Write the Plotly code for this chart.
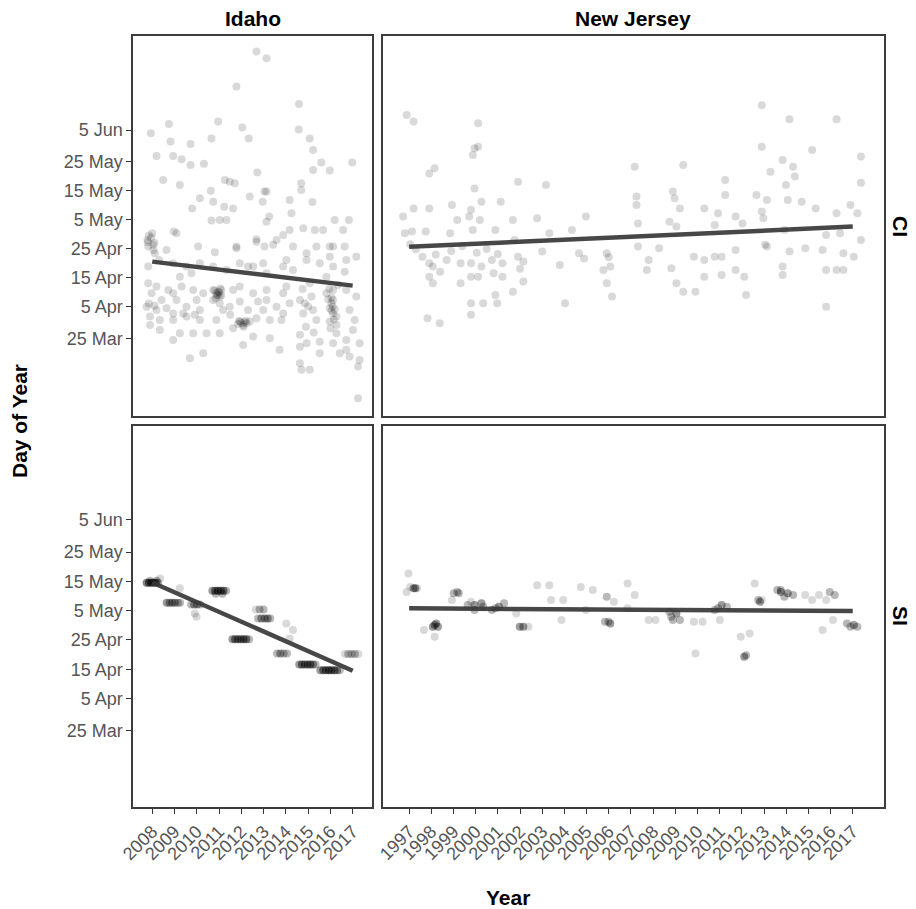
import plotly.graph_objects as go

# ---------------- data ----------------
years_idaho = list(range(2008, 2018))
years_nj = list(range(1997, 2018))
ytick_doy = [84, 95, 105, 115, 125, 135, 145, 156]
ytick_text = ["25 Mar", "5 Apr", "15 Apr", "25 Apr", "5 May", "15 May", "25 May", "5 Jun"]

# Idaho, CI : (jittered year, day of year)
idaho_ci = [
    (2007.94,154.9),(2008.19,147.0),(2008.49,138.7),(2007.79,118.0),(2008.04,116.3),(2007.82,115.7),
    (2008.12,113.4),(2008.31,111.1),(2007.82,108.8),(2007.82,103.0),(2008.19,101.9),(2007.97,99.6),
    (2008.42,97.2),(2007.75,94.9),(2008.19,93.8),(2007.9,91.5),(2008.34,90.3),(2007.9,88.6),
    (2008.34,86.9),(2007.85,119.5),(2008.0,120.3),(2008.1,117.0),
    (2007.8,117.2),(2007.95,118.8),(2008.05,114.5),(2007.85,96.0),(2008.1,95.2),
    (2008.75,158.1),(2008.82,152.0),(2008.94,147.0),(2009.32,145.9),(2009.24,137.0),(2009.09,120.3),
    (2008.97,120.9),(2008.64,114.5),(2008.94,109.9),(2009.24,105.3),(2009.32,101.9),(2008.72,100.7),
    (2008.94,99.6),(2009.09,97.2),(2008.64,94.4),(2008.94,92.6),(2009.39,92.6),(2008.94,90.3),
    (2009.24,85.7),(2008.94,83.4),
    (2009.72,151.2),(2009.72,143.9),(2010.32,144.3),(2010.14,132.4),(2009.79,128.9),(2010.06,115.7),
    (2009.54,108.8),(2010.14,109.9),(2009.76,106.5),(2009.84,100.7),(2010.29,99.6),(2009.99,97.2),
    (2009.54,94.9),(2010.14,93.8),(2009.91,92.1),(2009.54,91.5),(2010.14,90.3),(2009.84,85.7),
    (2010.29,78.8),(2009.69,77.1),
    (2010.96,158.9),(2010.66,153.1),(2011.26,138.7),(2011.48,138.1),(2010.63,135.0),(2010.74,131.2),
    (2011.23,129.5),(2010.66,124.7),(2011.03,124.9),(2011.33,124.9),(2010.81,113.7),(2010.74,108.8),
    (2011.33,107.6),(2010.74,100.7),(2011.1,100.7),(2010.96,100.1),(2010.88,99.6),(2011.03,98.4),
    (2010.74,97.2),(2011.03,96.1),(2011.48,94.9),(2011.18,93.8),(2010.88,90.3),(2010.44,85.7),
    (2011.03,85.7),(2010.9,98.9),(2011.0,99.8),
    (2010.8,100.5),(2010.95,99.0),(2011.05,101.2),(2010.85,97.8),(2011.1,98.9),
    (2011.78,171.0),(2012.04,156.9),(2012.33,153.1),(2011.71,137.6),(2012.38,133.0),(2011.63,128.9),
    (2011.78,115.7),(2011.78,115.1),(2011.93,109.9),(2012.3,108.8),(2011.93,101.9),(2011.63,100.7),
    (2011.93,96.7),(2012.3,93.8),(2011.93,89.8),(2012.38,89.8),(2012.23,89.2),(2012.08,88.6),
    (2012.15,89.5),(2011.63,87.5),(2012.08,81.7),(2011.5,92.1),
    (2011.9,90.0),(2012.0,89.3),(2012.2,90.1),(2012.1,88.0),(2011.85,88.9),
    (2012.68,183.1),(2013.13,180.8),(2012.72,141.3),(2013.04,134.7),(2013.13,134.7),(2012.96,131.2),
    (2013.25,126.1),(2013.13,124.3),(2012.68,118.2),(2012.68,117.4),(2013.04,115.7),(2012.98,109.9),
    (2012.53,108.8),(2013.13,106.5),(2013.13,100.7),(2012.53,99.6),(2013.13,97.2),(2012.75,96.7),
    (2012.98,93.8),(2012.68,90.9),(2013.28,90.3),(2012.53,84.6),(2013.28,84.0),
    (2014.17,131.8),(2014.25,127.2),(2014.17,121.4),(2013.88,119.7),(2013.58,118.0),(2013.43,116.3),
    (2014.32,115.7),(2014.02,111.1),(2013.88,108.8),(2014.32,107.6),(2014.02,101.9),(2013.88,99.6),
    (2014.17,96.1),(2013.58,94.9),(2013.88,92.6),(2013.8,90.3),(2013.72,80.0),
    (2014.59,165.0),(2014.58,156.2),(2015.07,153.1),(2015.22,149.1),(2015.59,144.8),(2015.22,142.2),
    (2014.69,137.6),(2014.69,135.3),(2015.19,131.1),(2014.78,122.0),(2015.3,121.4),(2015.37,115.7),
    (2014.93,113.4),(2014.93,111.1),(2015.07,103.0),(2015.15,98.4),(2014.63,97.2),(2014.85,96.1),
    (2015.22,93.8),(2014.78,92.6),(2015.37,90.3),(2014.63,85.2),(2015.52,82.8),(2014.93,82.3),
    (2014.63,81.1),(2015.52,78.8),(2014.63,75.4),(2014.7,73.1),(2015.07,73.1),
    (2014.75,101.0),(2015.0,95.0),(2014.9,88.0),(2015.25,86.0),
    (2015.97,142.0),(2016.19,124.9),(2015.67,121.4),(2015.97,115.7),(2016.12,115.7),(2015.97,112.2),
    (2015.52,109.9),(2016.12,108.8),(2015.82,105.3),(2016.34,102.4),(2016.12,100.7),(2015.82,99.6),
    (2016.12,97.2),(2016.04,96.1),(2015.97,94.4),(2016.12,92.6),(2016.27,91.5),(2015.97,89.8),
    (2016.27,88.6),(2016.27,85.7),(2016.12,82.3),(2016.42,78.8),(2016.05,98.0),(2016.1,95.0),
    (2015.95,101.0),(2016.05,93.5),(2016.15,90.5),(2015.9,97.5),(2016.2,94.0),(2016.0,87.5),
    (2016.98,144.8),(2016.83,124.9),(2016.57,121.4),(2016.64,115.7),(2016.71,111.1),(2017.16,112.2),
    (2016.64,107.0),(2016.71,100.7),(2017.16,98.4),(2016.86,93.8),(2017.09,90.3),(2017.01,86.9),
    (2016.71,83.4),(2017.31,82.3),(2016.71,80.0),(2016.86,77.7),(2017.31,76.5),(2017.24,74.2),
    (2017.24,63.3),
]

# New Jersey, CI
nj_ci = [
    (1996.89,161.2),(1997.20,158.9),(2000.11,158.3),(1999.95,149.7),(2000.11,150.2),(1999.87,147.4),
    (1997.91,141.0),(1998.15,142.8),(2001.91,138.1),(2003.17,137.0),(1999.95,135.8),(2012.90,164.6),
    (2014.15,159.7),(2016.27,159.7),(2012.90,150.2),(2015.17,149.1),(2017.37,146.8),(2017.37,137.8),
    (2013.84,145.6),(2014.31,143.3),(2013.29,141.6),(2014.39,139.9),(2011.25,138.7),(2007.17,143.3),
    (2009.36,143.9),(2013.99,137.0),(2014.07,131.8),(2014.70,131.2),(2015.33,128.9),(2012.66,133.5),
    (2013.13,131.8),(2012.90,127.8),(2012.97,125.5),(2011.25,133.5),(2008.89,134.7),(2008.97,132.4),
    (2009.21,128.9),(2007.25,133.0),(2007.25,130.1),(2010.31,128.9),(2004.97,126.1),(2002.77,125.5),
    (2001.68,124.9),(1996.73,126.1),(1997.20,128.9),(1997.91,128.9),(1998.93,130.1),(1999.79,128.4),
    (1999.71,126.1),(2000.26,131.2),(2000.19,124.9),(2001.13,131.2),(1999.17,124.9),(1999.87,121.4),
    (1996.81,120.3),(1997.13,120.9),(1997.75,120.9),(1998.85,120.3),(2000.89,121.4),(2001.75,118.0),
    (2003.32,120.3),(2004.34,121.4),(2007.32,123.7),(2008.74,124.3),(2009.05,122.6),(2010.78,123.2),
    (2010.93,127.2),(2011.72,126.1),(2012.03,123.7),(2013.05,116.3),(2013.92,121.4),(2014.15,114.0),
    (2014.86,115.1),(2015.64,114.5),(2016.27,127.2),(2016.90,130.1),(2017.21,127.2),(2017.37,118.0),
    (2017.05,112.2),(1997.60,112.2),(1997.91,109.9),(1998.07,108.8),(1998.69,111.1),(1999.32,109.9),
    (1999.79,109.9),(2000.26,108.8),(2000.73,111.1),(2001.21,109.9),(2001.91,112.2),(2002.15,110.5),
    (1997.91,105.3),(1998.07,103.0),(1999.32,103.0),(1999.79,105.3),(2000.11,105.3),(2000.81,106.5),
    (2001.21,105.3),(2002.15,103.6),(1999.79,96.1),(2000.34,96.1),(2000.89,99.0),(2000.97,96.1),
    (2001.68,100.1),(1997.83,90.9),(1998.38,89.2),(1999.79,92.1),(2003.79,109.3),(2004.03,96.1),
    (2004.66,113.4),(2004.89,111.6),(2005.91,113.4),(2005.76,107.6),(2006.07,108.8),(2005.91,103.0),
    (2006.15,98.4),(2007.32,115.7),(2007.80,111.1),(2007.72,107.6),(2008.27,115.1),(2008.82,108.2),
    (2009.05,103.0),(2009.36,100.1),(2009.91,100.1),(2009.84,112.2),(2010.31,111.1),(2010.78,112.2),
    (2011.09,112.2),(2010.31,105.3),(2011.09,105.9),(2011.72,107.6),(2012.11,105.3),(2011.72,114.5),
    (2012.19,99.0),(2013.13,115.7),(2013.84,108.8),(2013.84,105.9),(2015.80,107.6),(2016.27,107.6),
    (2016.58,107.6),(2016.58,113.4),(2015.80,94.9),(2016.43,120.3),(2015.80,119.7),
    (1997.05,116.5),(1997.3,114.8),(1998.2,113.0),(1998.9,114.2),(1999.4,115.8),(2000.05,113.6),
    (2000.5,114.9),(2001.0,113.1),(2002.0,108.0),(1998.4,107.0),(2003.0,114.0),(2006.0,112.0),
]

# Idaho, SI : (jittered year, day of year, number of overlapping records)
idaho_si = [
    (2007.75,134.5,4),(2007.85,134.5,4),(2007.95,134.5,4),(2008.05,134.5,4),(2008.15,134.5,4),
    (2008.25,134.5,3),(2007.9,135.2,2),(2008.2,135.2,2),(2008.35,136.0,1),
    (2008.65,127.7,3),(2008.78,127.7,3),(2008.9,127.7,3),(2009.02,127.7,3),(2009.15,127.7,2),
    (2009.25,127.7,2),(2009.24,132.6,1),
    (2009.75,127.1,2),(2009.88,127.1,3),(2010.02,127.1,3),(2010.15,127.1,2),(2009.91,124.0,1),
    (2009.99,122.9,1),
    (2010.7,131.8,3),(2010.82,131.8,4),(2010.95,131.8,5),(2011.08,131.8,4),(2011.2,131.8,4),
    (2011.32,131.8,2),(2010.85,130.8,2),(2011.15,130.8,2),
    (2011.6,115.2,3),(2011.72,115.2,4),(2011.85,115.2,4),(2011.98,115.2,4),(2012.1,115.2,4),
    (2012.22,115.2,4),(2012.35,115.2,2),
    (2012.65,125.4,1),(2012.82,125.4,2),(2013.0,125.4,2),(2012.75,122.3,2),(2012.9,122.3,3),
    (2013.05,122.3,3),(2013.18,122.3,3),(2013.3,122.3,2),
    (2013.6,110.4,2),(2013.75,110.4,3),(2013.9,110.4,2),(2014.05,110.4,2),(2014.32,118.4,1),
    (2014.17,115.5,1),(2014.02,120.6,1),
    (2014.6,106.6,3),(2014.72,106.6,4),(2014.85,106.6,4),(2014.98,106.6,4),(2015.1,106.6,4),
    (2015.22,106.6,3),(2015.33,106.6,2),
    (2015.55,104.7,3),(2015.68,104.7,4),(2015.8,104.7,4),(2015.93,104.7,5),(2016.05,104.7,4),
    (2016.18,104.7,4),(2016.3,104.7,3),(2016.42,104.7,2),
    (2016.65,110.2,1),(2016.8,110.2,2),(2016.95,110.2,2),(2017.1,110.2,2),(2017.25,110.2,1),
]

# New Jersey, SI
nj_si = [
    (1996.97,137.7,1),(1996.89,131.4,1),(1997.05,133.1,1),(1997.2,132.6,3),(1997.28,132.6,3),
    (1997.36,132.6,1),(1997.67,118.4,1),(1998.07,119.5,3),(1998.22,120.6,3),(1998.3,119.5,3),
    (1998.15,120.1,3),(1998.15,116.1,1),(1999.01,130.9,2),(1999.24,130.9,2),(1998.93,128.6,1),
    (1999.17,131.4,2),(1999.64,126.9,2),(1999.95,126.9,3),(2000.26,127.5,3),(2000.34,126.3,2),
    (1999.95,125.2,2),(1999.79,128.0,1),(2000.73,125.2,2),(2001.05,126.3,3),(2001.28,127.5,2),
    (2000.89,125.8,2),(2001.83,124.0,1),(2001.99,119.5,3),(2002.15,119.5,3),(2002.38,119.5,1),
    (2002.77,133.7,1),(2003.32,133.7,1),(2003.4,128.6,1),(2003.95,128.6,1),(2003.87,121.8,1),
    (2004.74,133.1,1),(2005.28,132.0,1),(2004.97,125.2,1),(2005.91,129.7,2),(2006.07,120.6,3),
    (2005.83,121.2,2),(2006.23,128.0,1),(2005.99,121.2,2),(2006.85,134.3,1),(2007.17,130.3,1),
    (2006.85,125.8,1),(2007.8,121.8,1),(2008.11,121.8,1),(2008.74,124.6,2),(2008.89,121.8,2),
    (2009.21,121.8,2),(2009.05,124.0,3),(2008.82,122.9,2),(2009.84,121.2,1),(2010.23,121.2,1),
    (2009.91,110.4,1),(2010.78,125.2,2),(2011.09,126.9,3),(2011.33,126.3,2),(2011.01,121.8,1),
    (2010.93,125.8,2),(2011.95,116.1,1),(2012.35,117.2,1),(2012.11,109.3,3),(2012.19,109.8,2),
    (2012.58,134.3,1),(2012.82,128.0,3),(2012.74,128.6,2),(2012.9,128.6,1),(2013.6,132.0,2),
    (2013.76,131.4,3),(2014.07,130.9,3),(2014.31,130.3,2),(2013.92,129.7,2),(2013.76,132.0,2),
    (2014.86,130.3,1),(2015.17,128.6,1),(2015.48,130.3,1),(2015.96,131.4,2),(2016.19,130.3,2),
    (2015.8,128.6,1),(2015.64,118.4,1),(2016.11,121.8,1),(2016.74,120.6,2),(2017.05,120.1,3),
    (2017.21,119.5,2),(2016.9,119.5,2),
]

# fitted trend lines: (start year, start doy, end year, end doy)
trend_idaho_ci = (2008, 110.5, 2017, 102.2)
trend_nj_ci = (1997, 115.6, 2017, 122.6)
trend_idaho_si = (2008, 134.6, 2017, 104.5)
trend_nj_si = (1997, 125.8, 2017, 124.9)

# ---------------- figure ----------------
# the page body adds an 8 px margin, so the figure is 8 px smaller and offset
OFF = 8
W, H = 916 - OFF, 909 - OFF
PT_COLOR = "rgba(0,0,0,0.15)"
LINE_COLOR = "rgba(55,55,55,0.92)"
FONT = "Liberation Sans, Arial, sans-serif"

def expand(rows):
    xs, ys = [], []
    for r in rows:
        n = r[2] if len(r) > 2 else 1
        for _ in range(n):
            xs.append(r[0]); ys.append(r[1])
    return xs, ys

fig = go.Figure()
panels = [("x", "y", idaho_ci, trend_idaho_ci), ("x2", "y2", nj_ci, trend_nj_ci),
          ("x3", "y3", idaho_si, trend_idaho_si), ("x4", "y4", nj_si, trend_nj_si)]
for xa, ya, pts, tr in panels:
    xs, ys = expand(pts)
    fig.add_trace(go.Scatter(x=xs, y=ys, xaxis=xa, yaxis=ya, mode="markers",
                             marker=dict(size=8, color=PT_COLOR, line=dict(width=0)),
                             hoverinfo="skip", showlegend=False))
for xa, ya, pts, tr in panels:
    fig.add_trace(go.Scatter(x=[tr[0], tr[2]], y=[tr[1], tr[3]], xaxis=xa, yaxis=ya,
                             mode="lines", line=dict(color=LINE_COLOR, width=4.5),
                             hoverinfo="skip", showlegend=False))

def px2x(p):
    return (p - OFF) / W

def px2y(p):
    return 1 - (p - OFF) / H

dom_x_id = [px2x(133.3), px2x(372.3)]
dom_x_nj = [px2x(382.5), px2x(884.0)]
dom_y_ci = [px2y(415.5), px2y(36.0)]
dom_y_si = [px2y(807.0), px2y(426.0)]

rng_x_id = [2007.15, 2017.88]
rng_x_nj = [1995.80, 2018.41]
rng_y_ci = [57.3, 188.5]
rng_y_si = [58.0, 188.0]

tickfont = dict(family=FONT, size=18, color="#555555")
common = dict(showline=True, mirror=True, linecolor="#3c3c3c", linewidth=2,
              showgrid=False, zeroline=False, automargin=False, fixedrange=True)

def xax(dom, rng, years, anchor, labels):
    d = dict(common, domain=dom, range=rng, anchor=anchor, tickmode="array",
             tickvals=years, ticktext=[str(v) for v in years])
    if labels:
        d.update(ticks="outside", ticklen=5, tickwidth=1, tickcolor="#333333",
                 showticklabels=True, tickangle=-45, tickfont=tickfont)
    else:
        d.update(ticks="", showticklabels=False)
    return d

def yax(dom, rng, anchor, labels):
    d = dict(common, domain=dom, range=rng, anchor=anchor, tickmode="array",
             tickvals=ytick_doy, ticktext=ytick_text)
    if labels:
        d.update(ticks="outside", ticklen=5, tickwidth=1, tickcolor="#333333",
                 showticklabels=True, tickfont=tickfont)
    else:
        d.update(ticks="", showticklabels=False)
    return d

fig.update_layout(
    width=W, height=H, autosize=False,
    margin=dict(l=0, r=0, t=0, b=0),
    paper_bgcolor="white", plot_bgcolor="white",
    xaxis=xax(dom_x_id, rng_x_id, years_idaho, "y", False),
    xaxis2=xax(dom_x_nj, rng_x_nj, years_nj, "y2", False),
    xaxis3=xax(dom_x_id, rng_x_id, years_idaho, "y3", True),
    xaxis4=xax(dom_x_nj, rng_x_nj, years_nj, "y4", True),
    yaxis=yax(dom_y_ci, rng_y_ci, "x", True),
    yaxis2=yax(dom_y_ci, rng_y_ci, "x2", False),
    yaxis3=yax(dom_y_si, rng_y_si, "x3", True),
    yaxis4=yax(dom_y_si, rng_y_si, "x4", False),
)

titlefont = dict(family=FONT, size=21, color="black")
ann = [
    dict(text="<b>Idaho</b>", x=px2x(252.8), y=px2y(18), textangle=0),
    dict(text="<b>New Jersey</b>", x=px2x(633), y=px2y(18), textangle=0),
    dict(text="<b>CI</b>", x=px2x(901), y=px2y(226), textangle=90),
    dict(text="<b>SI</b>", x=px2x(901), y=px2y(616), textangle=90),
    dict(text="<b>Day of Year</b>", x=px2x(20), y=px2y(421), textangle=-90),
    dict(text="<b>Year</b>", x=px2x(508), y=px2y(897), textangle=0),
]
for a in ann:
    fig.add_annotation(xref="paper", yref="paper", showarrow=False, font=titlefont,
                       xanchor="center", yanchor="middle", **a)

fig.write_html("out.html")
